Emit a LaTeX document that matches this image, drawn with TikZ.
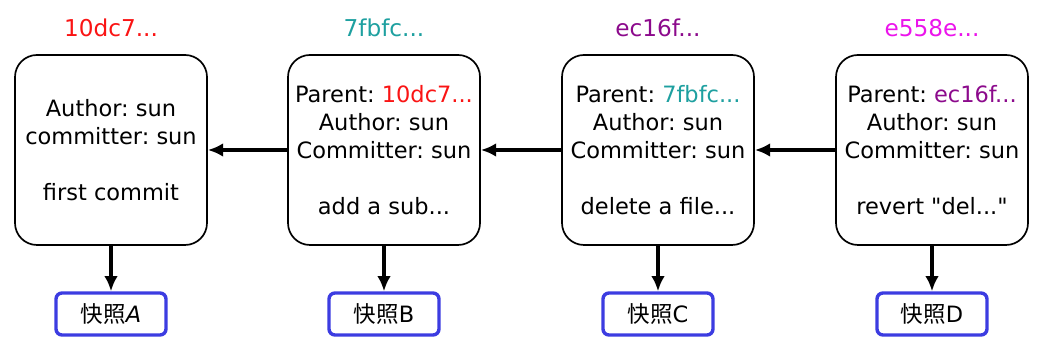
\documentclass[tikz,border=0pt]{standalone}
\usepackage{fontspec}
\setmainfont{DejaVu Sans}[Ligatures=TeXOff]
\newfontfamily\cjk{Noto Sans CJK SC}
\usetikzlibrary{arrows.meta,positioning}
\definecolor{hashred}{RGB}{250,20,20}
\definecolor{hashteal}{RGB}{30,160,160}
\definecolor{hashpurple}{RGB}{140,10,140}
\definecolor{hashpink}{RGB}{235,20,235}
\definecolor{snapblue}{RGB}{60,60,225}

\begin{document}
\begin{tikzpicture}[
      commit/.style={rectangle, rounded corners=0.55cm, draw=black, fill=white, minimum width=4.8cm, minimum height=4.75cm, align=center, font=\fontsize{16}{19.8}\selectfont, line width=1.2pt, inner sep=0pt},
      hash/.style={font=\fontsize{16.5}{19}\selectfont},
      snap/.style={rectangle, rounded corners=0.15cm, draw=snapblue, fill=white, minimum width=2.75cm, minimum height=1.05cm, font=\fontsize{16}{18}\selectfont, line width=2.4pt},
      link/.style={-{Latex[length=3.8mm,width=3.4mm]}, line width=2.2pt}
    ]
      \useasboundingbox (0,0) rectangle (26.075,8.9);

      \node[commit] (c1) at (2.775,5.15) {Author:\ sun\\committer:\ sun\\[19.8pt]first commit};
      \node[commit] (c2) at (9.6,5.15) {Parent:\ \textcolor{hashred}{10dc7...}\\Author:\ sun\\Committer:\ sun\\ \\add a sub...};
      \node[commit] (c3) at (16.45,5.15) {Parent:\ \textcolor{hashteal}{7fbfc...}\\Author:\ sun\\Committer:\ sun\\ \\delete a file...};
      \node[commit] (c4) at (23.3,5.15) {Parent:\ \textcolor{hashpurple}{ec16f...}\\Author:\ sun\\Committer:\ sun\\ \\revert "del..."};

      \node[hash, text=hashred] (h1) at (2.775,8.2) {10dc7...};
      \node[hash, text=hashteal] (h2) at (9.6,8.2) {7fbfc...};
      \node[hash, text=hashpurple] (h3) at (16.45,8.2) {ec16f...};
      \node[hash, text=hashpink] (h4) at (23.3,8.2) {e558e...};

      \node[snap] (s1) at (2.775,1.05) {{\cjk 快照}\textit{A}};
      \node[snap] (s2) at (9.6,1.05) {{\cjk 快照}B};
      \node[snap] (s3) at (16.45,1.05) {{\cjk 快照}C};
      \node[snap] (s4) at (23.3,1.05) {{\cjk 快照}D};

      \draw[link] (c2) -- (c1);
      \draw[link] (c3) -- (c2);
      \draw[link] (c4) -- (c3);
      \foreach \i in {1,...,4}
        \draw[link] (c\i) -- (s\i);
    \end{tikzpicture}
\end{document}
